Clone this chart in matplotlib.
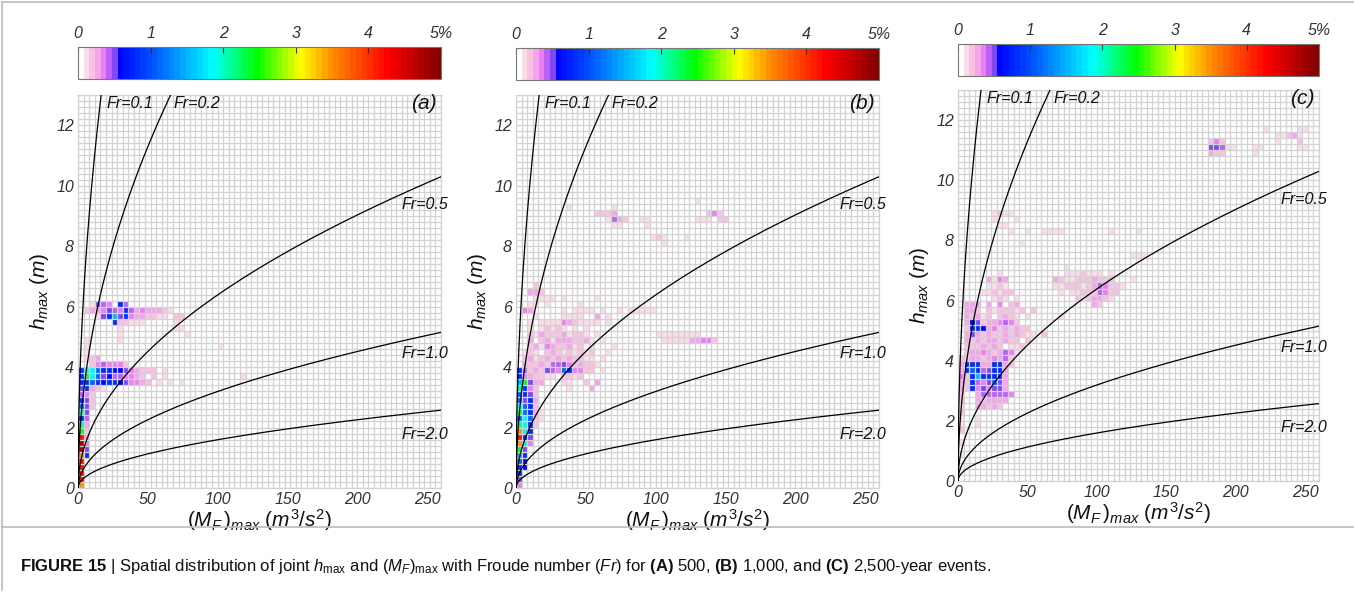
import numpy as np
import matplotlib
matplotlib.use("Agg")
import matplotlib.pyplot as plt
from matplotlib.colors import ListedColormap, Normalize
from matplotlib.cm import ScalarMappable
from matplotlib import font_manager

# ------------------------------------------------------------------ data
# cell value codes (percent of cells)
code_chars = ['1', '2', '3', '4', '5', '6', '7', '8', '9', 'c', 'C', 't', 'g', 'y', 'Y', 'o', 'r', 'R']
code_values = [0.12, 0.2, 0.28, 0.36, 0.43, 0.5, 0.6, 0.8, 1.1, 1.5, 1.85, 2.1, 2.4, 2.8, 3.1, 3.5, 4.2, 4.7]

# bins: (M_F)max step 4 m3/s2, hmax step 0.2 m
m_edges = np.arange(0, 264, 4)
h_edges = np.linspace(0, 13, 66)

froude_numbers = [0.1, 0.2, 0.5, 1.0, 2.0]
froude_labels = ['Fr=0.1', 'Fr=0.2', 'Fr=0.5', 'Fr=1.0', 'Fr=2.0']
panel_tags = ['(a)', '(b)', '(c)']

cbar_ticks = [0, 1, 2, 3, 4, 5]
cbar_ticklabels = ['0', '1', '2', '3', '4', '5%']
x_ticks = [0, 50, 100, 150, 200, 250]
y_ticks = [0, 2, 4, 6, 8, 10, 12]

# (h-bin row, first M-bin column, codes)
cells_a = [
    (0, 0, "o"), (1, 0, "r"), (2, 0, "r"), (3, 0, "r"), (4, 0, "r"),
    (5, 0, "o8"), (6, 0, "R6"), (7, 0, "R4"), (8, 0, "r3"), (9, 0, "g2"),
    (10, 0, "t3"), (11, 0, "85"), (12, 0, "t6"), (13, 0, "962"), (14, 0, "862"),
    (15, 0, "542"), (16, 0, "68321"),
    (17, 0, "8898788764432.1.1.1"),
    (18, 0, "8gC967554432.2.1"), (18, 29, "1"),
    (19, 0, "8CC98877643222.1"),
    (20, 2, "2454442"), (21, 1, "123"), (22, 1, "1"),
    (23, 1, "1"), (23, 25, "1"),
    (24, 1, "1"), (24, 7, "1"),
    (25, 7, "1"), (25, 19, "1"),
    (26, 7, "1"), (26, 17, "11"),
    (27, 6, "822111"), (27, 17, "1"),
    (28, 3, "168c684332211.22"),
    (29, 1, "2334654853433321"),
    (30, 2, "1654.85"),
]

cells_b = [
    (0, 0, "4"), (1, 0, "6"), (2, 0, "8"), (3, 0, "87"), (4, 0, "97"),
    (5, 0, "c8"), (6, 0, "g6"), (7, 0, "oC4"), (8, 0, "r86"), (9, 0, "oC8"),
    (10, 0, "tC82"), (11, 0, "9C921"), (12, 0, "g9831"), (13, 0, "C982"),
    (14, 0, "9683"), (15, 0, "9862"), (16, 0, "t842.....1...3"),
    (17, 0, "cg633...11..2.3"), (18, 0, "8432211.2212"),
    (19, 0, "85232654984422.1"),
    (20, 1, "32232556423221"),
    (21, 1, "2312323232211.1"),
    (22, 1, "121.232121212..1"),
    (23, 2, "2314322312.1...1"),
    (24, 2, "3.2313332231.1"), (24, 26, "1111133442"),
    (25, 2, "21322231221.1"), (25, 25, "11111111"),
    (26, 2, "1.12121.1.1"),
    (27, 2, "1.11114321111.1"),
    (28, 3, "1....1111..3.1"),
    (29, 1, "43.....1.1111.1..1.11111"),
    (30, 2, "11.1.....1"),
    (31, 3, "1111.1.....1"),
    (32, 2, "332"), (33, 3, "2"),
    (40, 26, "1"),
    (41, 24, "121...1"),
    (43, 17, "11....1"),
    (44, 16, "1532"), (44, 22, "11"), (44, 32, "111.22"),
    (45, 14, "2223"), (45, 34, "242"),
    (46, 9, "1"), (46, 17, "1"),
    (47, 32, "1"),
]

cells_c = [
    (4, 0, "1"), (6, 0, "1"), (8, 0, "2"), (9, 0, "1..1"), (10, 0, "1..1"),
    (11, 0, "2"), (12, 0, "1..33232"), (13, 0, "2..323333"),
    (14, 0, "2..3555554"),
    (15, 0, "328464663"),
    (16, 0, "328546963"),
    (17, 0, "428c88883"),
    (18, 0, "389856883"),
    (19, 0, "3888338832"),
    (20, 0, "2233234352"),
    (21, 1, "2334323541"),
    (22, 1, "2223232.112"),
    (23, 1, "3232332322.2"),
    (24, 1, "3632322323211.2"),
    (25, 1, "288734232322"),
    (26, 1, "3762334542"),
    (27, 1, "32312.2321.1.....1"),
    (28, 1, "332.2122212.2"),
    (29, 1, "333.3.4.23"), (29, 24, "32"),
    (30, 6, "121.1"), (30, 21, "2123321"),
    (31, 4, "112122"), (31, 18, "1.112225422"),
    (32, 5, "1121"), (32, 17, "1122212354221"),
    (33, 5, "3143"), (33, 17, "32112223222...1"),
    (34, 7, "1"), (34, 19, "1112111.1"),
    (35, 19, "1"),
    (37, 31, "111"),
    (39, 11, "1"),
    (41, 9, "1..1..1111........1....1"),
    (42, 7, "11"),
    (43, 6, "1...1"),
    (44, 6, "1211"),
    (54, 45, "322"), (54, 53, "1"),
    (55, 45, "665"), (55, 48, "11"), (55, 53, "11"), (55, 61, "11"),
    (56, 45, "242"), (56, 57, "1"), (56, 61, "2"),
    (57, 57, "11231"),
    (58, 55, "1"), (58, 61, "11"),
]

# ------------------------------------------------------------------ style
def pick(fams):
    names = {f.name for f in font_manager.fontManager.ttflist}
    for f in fams:
        if f in names:
            return f
    return 'DejaVu Sans'

SANS = pick(['Liberation Sans', 'Arial', 'DejaVu Sans'])
plt.rcParams['font.family'] = [SANS, 'DejaVu Sans']
plt.rcParams['mathtext.fontset'] = 'custom'
plt.rcParams['mathtext.rm'] = SANS
plt.rcParams['mathtext.it'] = SANS + ':italic'
plt.rcParams['mathtext.bf'] = SANS + ':bold'

# colormap: 64 bands over 0-5 %
pinks = ['#ffffff', '#fbdde9', '#f8c3e3', '#f4a6ea', '#ea80f3', '#b862f8', '#7e48f6']
anchors_v = [0.55, 1.0, 1.87, 2.47, 3.06, 3.5, 4.26, 5.0]
anchors_c = [(0, 0, 1), (0, 0.3, 1), (0, 1, 1), (0, 1, 0), (1, 1, 0), (1, 0.55, 0), (1, 0, 0), (0.5, 0, 0)]
nb = 64
band = 5.0 / nb
cols = list(pinks)
for k in range(len(pinks), nb):
    v = (k + 0.5) * band
    rgb = [np.interp(v, anchors_v, [c[i] for c in anchors_c]) for i in range(3)]
    cols.append(tuple(rgb))
cmap = ListedColormap(cols)
cmap.set_bad((1, 1, 1, 0))
norm = Normalize(0, 5)

value_of = dict(zip(code_chars, code_values))


def build(cells):
    Z = np.full((len(h_edges) - 1, len(m_edges) - 1), np.nan)
    for r, c0, s in cells:
        for k, ch in enumerate(s):
            if ch != '.':
                Z[r, c0 + k] = value_of[ch]
    return np.ma.masked_invalid(Z)


W, H = 1355, 601
fig = plt.figure(figsize=(W / 100, H / 100), dpi=100)


def rect(l, t, r, b):
    return [l / W, 1 - b / H, (r - l) / W, (b - t) / H]


axes_px = [(78, 95, 441, 488), (516, 95, 879, 488), (958, 90, 1319, 481)]
cbar_px = [(78, 47, 441, 79), (516, 48, 879, 80), (958, 44, 1319, 76)]
label_pos = [(20.5, 12.72), (68.5, 12.72), (232, 9.37), (232, 4.44), (232, 1.78)]
grid_col = '#d2d2d2'
tick_col = '#333333'

for p, cells in enumerate([cells_a, cells_b, cells_c]):
    ax = fig.add_axes(rect(*axes_px[p]))
    Z = build(cells)
    ax.pcolormesh(m_edges, h_edges, Z, cmap=cmap, norm=norm, zorder=1)
    ax.vlines(m_edges, 0, 13, color=grid_col, lw=0.9, zorder=2)
    ax.hlines(h_edges, 0, 260, color=grid_col, lw=0.9, zorder=2)
    mm = np.concatenate([np.linspace(0, 2, 400), np.linspace(2, 260, 800)])
    for fr in froude_numbers:
        hh = np.sqrt(mm / (9.81 * fr ** 2))
        ax.plot(mm, hh, color='black', lw=0.9, zorder=3, clip_on=True)
    for (tx, ty), lab in zip(label_pos, froude_labels):
        ax.text(tx, ty, lab, fontsize=11.5, style='italic', ha='left', va='center',
                color='#111111', zorder=4, clip_on=False)
    ax.text(257, 12.72, panel_tags[p], fontsize=15, style='italic', ha='right',
            va='center', color='#111111', zorder=4)
    ax.set_xlim(0, 260)
    ax.set_ylim(0, 13)
    ax.set_xticks(x_ticks)
    ax.set_yticks(y_ticks)
    ax.tick_params(length=0, labelsize=11.5, labelcolor=tick_col, pad=3)
    for lab in ax.get_xticklabels() + ax.get_yticklabels():
        lab.set_style('italic')
    for s in ax.spines.values():
        s.set_color(grid_col)
        s.set_linewidth(0.9)
    ax.set_xlabel(r'$(M_F\,)_{max}\ (m^3/s^2)$', fontsize=15, labelpad=0, color='#111111')
    ax.set_ylabel(r'$h_{max}\ (m)$', fontsize=15, labelpad=4, color='#111111')

    cax = fig.add_axes(rect(*cbar_px[p]))
    cb = fig.colorbar(ScalarMappable(norm=norm, cmap=cmap), cax=cax, orientation='horizontal')
    cb.outline.set_edgecolor('#777777')
    cb.outline.set_linewidth(0.8)
    cax.xaxis.set_ticks_position('top')
    cax.xaxis.set_label_position('top')
    cb.set_ticks(cbar_ticks)
    cb.set_ticklabels(cbar_ticklabels)
    cax.tick_params(direction='in', length=4, width=0.8, color='#333333',
                    labelsize=11.5, labelcolor=tick_col, pad=4)
    for lab in cax.get_xticklabels():
        lab.set_style('italic')

# caption
fig.text(20 / W, 1 - 567 / H,
         r'$\mathbf{FIGURE\ 15}$ | Spatial distribution of joint $h_{\mathrm{max}}$ and '
         r'$(M_F)_{\mathrm{max}}$ with Froude number ($Fr$) for $\mathbf{(A)}$ 500, '
         r'$\mathbf{(B)}$ 1,000, and $\mathbf{(C)}$ 2,500-year events.',
         fontsize=12, va='center', ha='left', color='#111111')

# frame lines
fig.add_artist(plt.Line2D([2 / W, 2 / W], [1 - 2 / H, 1 - 590 / H], color='#bbbbbb', lw=1.2))
fig.add_artist(plt.Line2D([2 / W, 1353 / W], [1 - 2 / H, 1 - 2 / H], color='#bbbbbb', lw=1.2))
fig.add_artist(plt.Line2D([2 / W, 1353 / W], [1 - 527 / H, 1 - 527 / H], color='#bbbbbb', lw=1.2))

fig.savefig('out.png', dpi=100)
